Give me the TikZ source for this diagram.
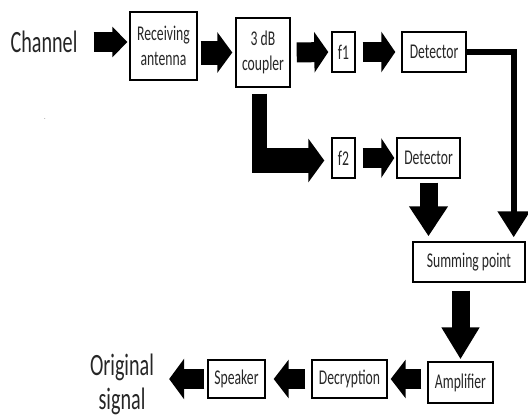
\documentclass[tikz,border=0pt]{standalone}
\usepackage{fontspec}
\usetikzlibrary{arrows.meta}
\newfontfamily\cond[FakeStretch=0.65]{Carlito}
\tikzset{
  blk/.style={draw, line width=1.4pt, inner sep=0pt, align=center, text=black!85,
    font=\cond\fontsize{21}{25}\selectfont},
  bigtext/.style={inner sep=0pt, align=center, text=black!85,
    font=\cond\fontsize{31}{34}\selectfont},
  fat/.style={line width=20pt, -{Triangle[length=14pt,width=40pt]}},
  thinarrow/.style={line width=6pt, -{Triangle[length=26pt,width=31pt]}}
}
\begin{document}
\begin{tikzpicture}[x=1pt, y=-1pt]
  \useasboundingbox (0,0) rectangle (528,416);

  % Texts at the two ends
  \node[bigtext] (chan) at (44,42) {Channel};
  \node[bigtext] (orig) at (122,384) {Original\\signal};
  \node[text=black!60, font=\small] (dot) at (45,119) {.};

  % Blocks
  \node[blk, minimum width=67pt, minimum height=68pt] (ant) at (163.5,46) {Receiving\\antenna};
  \node[blk, minimum width=54pt, minimum height=69pt] (cpl) at (263,52.5) {3 dB\\coupler};
  \node[blk, minimum width=23pt, minimum height=40pt] (f1) at (343.5,52) {f1};
  \node[blk, minimum width=64pt, minimum height=40pt] (det1) at (434,52) {Detector};
  \node[blk, minimum width=23pt, minimum height=40pt] (f2) at (343.5,158) {f2};
  \node[blk, minimum width=63pt, minimum height=40pt] (det2) at (428.5,158) {Detector};
  \node[blk, minimum width=112pt, minimum height=40pt] (sum) at (469,262) {Summing point};
  \node[blk, minimum width=65pt, minimum height=41pt] (amp) at (460.5,382.5) {Amplifier};
  \node[blk, minimum width=75pt, minimum height=38pt] (dec) at (349.5,379) {Decryption};
  \node[blk, minimum width=57pt, minimum height=38pt] (spk) at (236.5,379) {Speaker};

  % Upper branch
  \draw[fat, -{Triangle[length=15pt,width=30pt]}, shorten <=16pt, shorten >=2pt]
    (chan.east) -- (chan.east -| ant.west);
  \draw[fat, line width=24pt, -{Triangle[length=15pt,width=40pt]}, shorten <=3pt, shorten >=3pt]
    (cpl.west -| ant.east) -- (cpl.west);
  \draw[fat, shorten <=6pt, shorten >=3pt] (cpl.east) -- (f1.west);
  \draw[fat, shorten <=7pt, shorten >=6pt] (f1.east) -- (det1.west);
  \draw[thinarrow] (det1.east) -| ([xshift=-12pt,yshift=4pt]sum.north east);

  % Lower branch out of the coupler
  \coordinate (split) at (259.5,160.5);
  \draw[line width=15pt] ([yshift=-6pt]cpl.south -| split) -- ([yshift=-12.5pt]split);
  \draw[fat, line width=25pt, -{Triangle[length=16pt,width=43pt]}, shorten >=7pt]
    ([xshift=-7.5pt]split) -- (split -| f2.west);
  \draw[fat, -{Triangle[length=13pt,width=39pt]}, shorten <=7pt, shorten >=2pt] (f2.east) -- (det2.west);
  \draw[fat, line width=18pt, -{Triangle[length=30pt,width=37pt]}, shorten <=4pt, shorten >=5pt]
    (det2.south) -- (det2.south |- sum.north);

  % Output chain
  \draw[fat, line width=18pt, -{Triangle[length=32pt,width=36pt]}, shorten <=8pt, shorten >=2pt]
    (amp.north |- sum.south) -- (amp.north);
  \draw[fat, -{Triangle[length=15pt,width=38pt]}, shorten <=6pt, shorten >=3pt]
    (amp.west |- dec.east) -- (dec.east);
  \draw[fat, -{Triangle[length=15pt,width=38pt]}, shorten <=6pt, shorten >=8pt] (dec.west) -- (spk.east);
  \draw[fat, -{Triangle[length=15pt,width=40pt]}, shorten <=3pt, shorten >=15pt]
    (spk.west) -- (spk.west -| orig.east);
\end{tikzpicture}
\end{document}
